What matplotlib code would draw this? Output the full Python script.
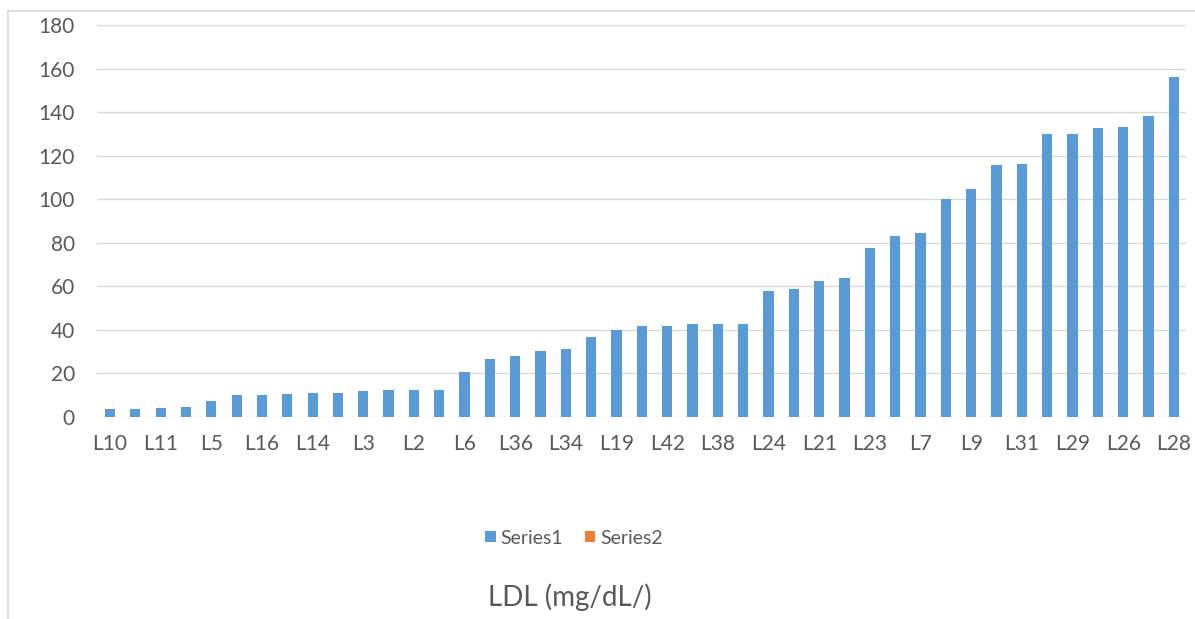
import matplotlib.pyplot as plt
import matplotlib.patches as patches
import numpy as np

# shown category labels (only every other category is labelled)
tick_labels = ['L10', 'L11', 'L5', 'L16', 'L14', 'L3', 'L2', 'L6', 'L36', 'L34', 'L19',
               'L42', 'L38', 'L24', 'L21', 'L23', 'L7', 'L9', 'L31', 'L29', 'L26', 'L28']

# Series1 values (43 bars)
series1 = [3.7, 3.7, 4.3, 4.6, 7.2, 10.1, 10.1, 10.7, 11.0, 11.0, 11.9, 12.2,
           12.5, 12.5, 20.8, 26.6, 27.9, 30.5, 31.2, 36.9, 40.0, 41.6, 41.6,
           42.7, 42.7, 42.7, 57.9, 58.9, 62.6, 63.7, 77.8, 83.1, 84.5, 100.1,
           104.7, 115.7, 116.2, 129.8, 130.1, 132.6, 133.3, 138.1, 156.1]
series2 = [0] * len(series1)

text_color = '#595959'
plt.rcParams['font.family'] = ['Lato', 'DejaVu Sans']

fig = plt.figure(figsize=(11.95, 6.19), dpi=100)
ax = fig.add_axes([97 / 1195, 1 - 417 / 619, (1186 - 97) / 1195, (417 - 25) / 619])

x = np.arange(len(series1))
ax.bar(x, series1, width=0.4, color='#5b9bd5', label='Series1', zorder=3)
ax.bar(x, series2, width=0.4, color='#ed7d31', label='Series2', zorder=3)

ax.set_xlim(-0.51, len(series1) - 0.52)
ax.set_ylim(0, 180)
ax.set_yticks(range(0, 181, 20))
ax.set_xticks(x[::2])
ax.set_xticklabels(tick_labels)
ax.grid(axis='y', color='#d9d9d9', linewidth=1.0, zorder=0)
ax.tick_params(axis='both', length=0, labelsize=15, colors=text_color)
ax.tick_params(axis='y', pad=16)
ax.tick_params(axis='x', pad=12)
for s in ax.spines.values():
    s.set_visible(False)

# outer chart frame
fig.patches.append(patches.Rectangle((8 / 1195, -0.1), 1.2, 1.1 - 11 / 619,
                                     transform=fig.transFigure, fill=False,
                                     edgecolor='#d9d9d9', linewidth=1.2))

leg = fig.legend(loc='center', bbox_to_anchor=(574 / 1195, 1 - 538 / 619), ncol=2,
                 frameon=False, fontsize=14, handlelength=0.55, handleheight=0.55,
                 handletextpad=0.25, columnspacing=1.1)
for t in leg.get_texts():
    t.set_color(text_color)

fig.text(570 / 1195, 1 - 597 / 619, 'LDL (mg/dL/)', ha='center', va='center',
         fontsize=20, color=text_color)

fig.savefig('out.png', dpi=100)
